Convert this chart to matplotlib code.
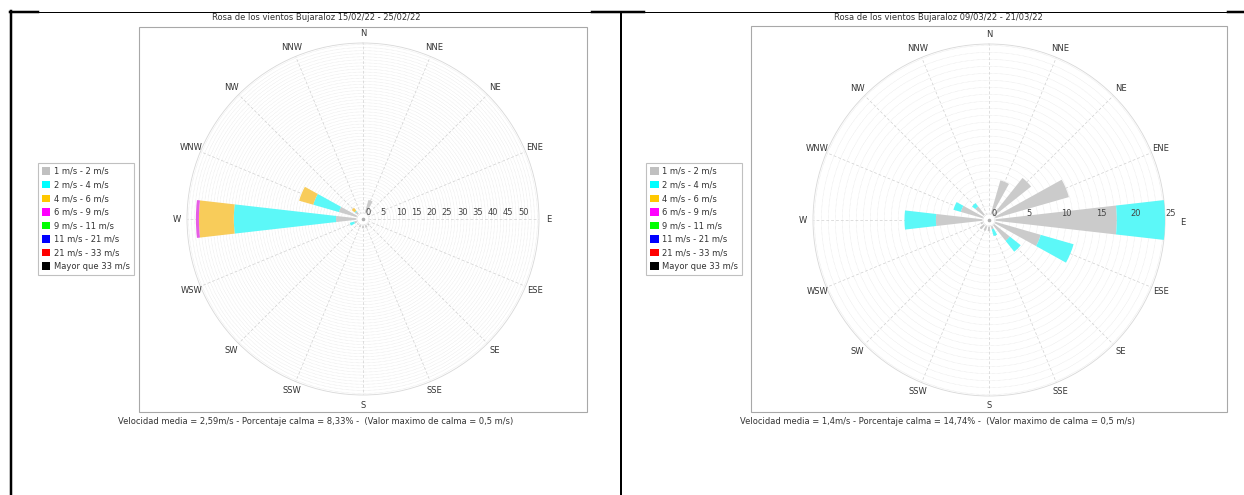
import numpy as np
import matplotlib
matplotlib.use("Agg")
import matplotlib.pyplot as plt
from matplotlib.patches import Patch, Rectangle
from matplotlib.lines import Line2D

# direcciones (N en sentido horario)
dirs = ["N", "NNE", "NE", "ENE", "E", "ESE", "SE", "SSE",
        "S", "SSW", "SW", "WSW", "W", "WNW", "NW", "NNW"]

# porcentaje por rango de velocidad, periodo 1 (15/02/22 - 25/02/22)
p1_grey = [0.0, 6.5, 1.5, 1.2, 1.6, 2.2, 2.8, 3.0, 3.0, 2.8, 2.5, 3.0, 8.8, 8.2, 3.2, 0.0]
p1_cyan = [0.0, 0.0, 0.0, 0.0, 0.0, 0.0, 0.0, 0.0, 0.0, 0.0, 0.0, 1.5, 33.4, 8.7, 0.3, 0.0]
p1_yell = [0.0, 0.0, 0.0, 0.0, 0.0, 0.0, 0.0, 0.0, 0.0, 0.0, 0.0, 0.0, 11.4, 4.8, 1.2, 0.0]
p1_pink = [0.0, 0.0, 0.0, 0.0, 0.0, 0.0, 0.0, 0.0, 0.0, 0.0, 0.0, 0.0, 1.0, 0.0, 0.0, 0.0]

# periodo 2 (09/03/22 - 21/03/22)
p2_grey = [0.0, 5.9, 7.7, 11.9, 18.3, 7.7, 3.8, 1.4, 1.6, 1.6, 1.7, 1.3, 7.6, 4.2, 2.5, 0.9]
p2_cyan = [0.0, 0.0, 0.0, 0.0, 7.3, 4.9, 2.0, 1.0, 0.0, 0.0, 0.0, 0.0, 4.5, 1.1, 0.6, 0.0]

legend_labels = ["1 m/s - 2 m/s", "2 m/s - 4 m/s", "4 m/s - 6 m/s", "6 m/s - 9 m/s",
                 "9 m/s - 11 m/s", "11 m/s - 21 m/s", "21 m/s - 33 m/s", "Mayor que 33 m/s"]
legend_colors = ["#c0c0c0", "#00ffff", "#ffc800", "#ff00ff",
                 "#00ff00", "#0000ff", "#ff0000", "#000000"]
bar_colors = ["#cbcbcb", "#5cf8f8", "#f8cc5a", "#e65ce6"]

titles = ["Rosa de los vientos Bujaraloz 15/02/22 - 25/02/22",
          "Rosa de los vientos Bujaraloz 09/03/22 - 21/03/22"]
footers = ["Velocidad media = 2,59m/s - Porcentaje calma = 8,33% -  (Valor maximo de calma = 0,5 m/s)",
           "Velocidad media = 1,4m/s - Porcentaje calma = 14,74% -  (Valor maximo de calma = 0,5 m/s)"]
r_ticks = [list(range(0, 51, 5)), list(range(0, 26, 5))]

W, H = 1244, 495
fig = plt.figure(figsize=(W / 100, H / 100), dpi=100)
fig.patch.set_facecolor("white")


def fx(px):
    return px / W


def fy(py):
    return 1 - py / H


def rose(cx, cy, rmax, series, ticks, title, footer, tcx, box, legx, e_off):
    R = 176
    ax = fig.add_axes([fx(cx - R), fy(cy + R), 2 * R / W, 2 * R / H], projection="polar")
    ax.set_facecolor("none")
    ax.set_theta_zero_location("N")
    ax.set_theta_direction(-1)
    ax.set_ylim(0, rmax)
    ax.set_xticks([])
    ax.set_yticks([])
    ax.grid(False)
    ax.spines["polar"].set_color("#d8d8d8")
    ax.spines["polar"].set_linewidth(0.6)

    th = np.linspace(0, 2 * np.pi, 400)
    for r in np.arange(1, rmax, 1):
        ax.plot(th, np.full_like(th, r), color="#dedede", lw=0.4, ls=(0, (1, 1.2)), zorder=1)
    theta = np.deg2rad(np.arange(16) * 22.5)
    for a in theta:
        ax.plot([a, a], [0, rmax], color="#d0d0d0", lw=0.5, ls=(0, (4, 3)), zorder=1)

    bottom = np.zeros(16)
    for vals, col in zip(series, bar_colors):
        vals = np.array(vals)
        ax.bar(theta, vals, width=np.deg2rad(13), bottom=bottom, color=col,
               edgecolor="none", zorder=3)
        bottom += vals

    # circulo de calma
    r0 = rmax * 6 / R
    ax.fill(th, np.full_like(th, r0), color="white", zorder=4)
    ax.plot(th, np.full_like(th, r0), color="#c8c8c8", lw=0.5, ls=(0, (1, 1)), zorder=5)
    ax.plot([0], [0], "o", ms=1.6, color="#b0b0b0", zorder=6)

    for v in ticks:
        ax.annotate(str(v), xy=(np.pi / 2, v), xytext=(1.5, 1.2), textcoords="offset points",
                    ha="left", va="bottom", fontsize=6, color="#444444", zorder=7)
    for a, d in zip(theta, dirs):
        rl = rmax * (186 + (e_off if d == "E" else 0)) / R
        dy = -1.5 if (d == "E" and e_off) else 0
        ax.annotate(d, xy=(a, rl), xytext=(0, dy), textcoords="offset points",
                    ha="center", va="center", fontsize=6, color="#333333",
                    annotation_clip=False)

    fig.add_artist(Rectangle((fx(box[0]), fy(box[3])), (box[2] - box[0]) / W,
                             (box[3] - box[1]) / H, transform=fig.transFigure,
                             fill=False, edgecolor="#a8a8a8", lw=0.8))
    fig.text(fx(tcx), fy(18), title, ha="center", va="center", fontsize=6, color="#333333")
    fig.text(fx(tcx), fy(421), footer, ha="center", va="center", fontsize=6, color="#333333")

    handles = [Patch(facecolor=c, edgecolor="none") for c in legend_colors]
    leg = fig.legend(handles, legend_labels, loc="center", bbox_to_anchor=(fx(legx), fy(219)),
                     fontsize=6, handlelength=1.0, handleheight=1.0, handletextpad=0.4,
                     labelspacing=0.55, borderpad=0.45, fancybox=False, framealpha=1)
    leg.get_frame().set_edgecolor("#c0c0c0")
    leg.get_frame().set_linewidth(0.8)
    for t in leg.get_texts():
        t.set_color("#333333")


rose(363, 219, 57.5, [p1_grey, p1_cyan, p1_yell, p1_pink], r_ticks[0],
     titles[0], footers[0], 316, (139, 27, 587, 412), 86, 0)
rose(989, 220, 25.2, [p2_grey, p2_cyan], r_ticks[1],
     titles[1], footers[1], 938, (751, 26, 1227, 412), 694, 8)


# bordes de la tabla
def hline(x0, x1, y, lw):
    fig.add_artist(Line2D([fx(x0), fx(x1)], [fy(y), fy(y)], color="black", lw=lw * 0.72,
                          transform=fig.transFigure))


def vline(x, y0, y1, lw):
    fig.add_artist(Line2D([fx(x), fx(x)], [fy(y0), fy(y1)], color="black", lw=lw * 0.72,
                          transform=fig.transFigure))


hline(10, 1244, 12, 1)
hline(10, 38, 12, 2.5)
hline(592, 644, 12, 2.5)
hline(1228, 1244, 12, 2.5)
vline(11, 11, 495, 2.5)
vline(621, 12, 495, 2)

fig.savefig("out.png", dpi=100)
